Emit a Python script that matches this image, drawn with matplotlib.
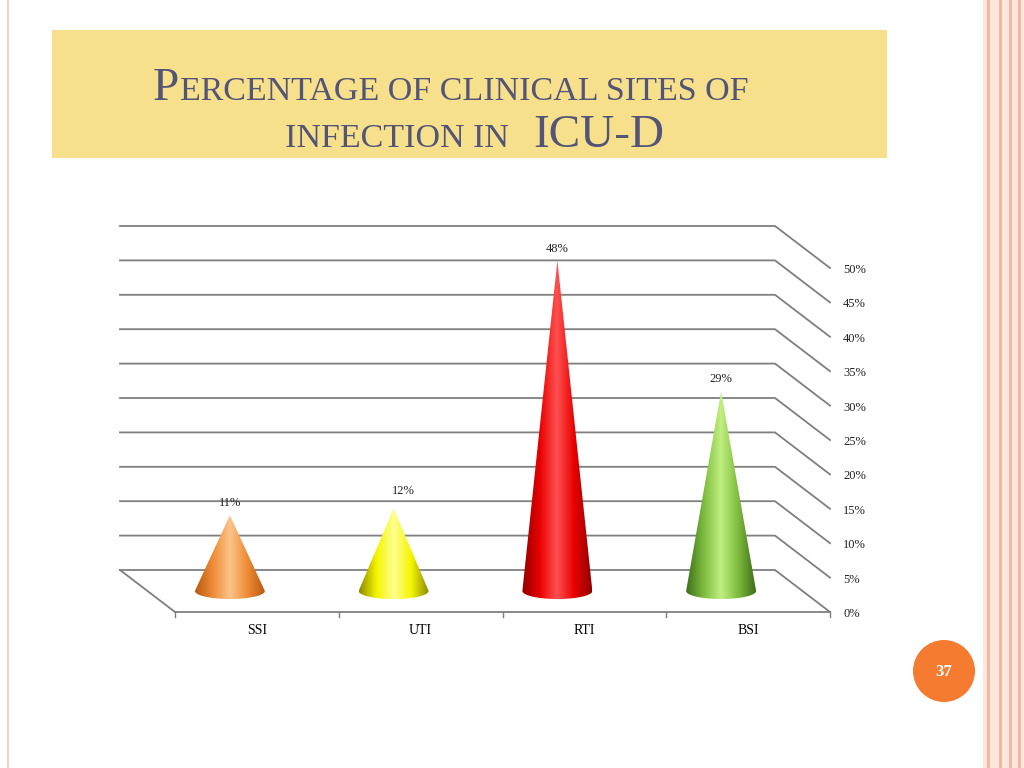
import numpy as np
import matplotlib
matplotlib.use("Agg")
import matplotlib.pyplot as plt
from matplotlib.patches import Polygon, Rectangle, Circle
from matplotlib.colors import LinearSegmentedColormap

categories = ["SSI", "UTI", "RTI", "BSI"]
values = [11, 12, 48, 29]
tick_labels = ["0%", "5%", "10%", "15%", "20%", "25%", "30%", "35%", "40%", "45%", "50%"]
cone_colors = [("#B85A10", "#F08A35", "#FBC48A"),
               ("#8A8A00", "#F5F500", "#FFFF90"),
               ("#900000", "#E80000", "#FF5050"),
               ("#3E6E18", "#7DBB3E", "#C0F080")]

fig = plt.figure(figsize=(10.24, 7.68), dpi=100)
ax = fig.add_axes([0, 0, 1, 1])
ax.set_xlim(0, 1024); ax.set_ylim(768, 0); ax.axis("off")

# slide decorations
ax.plot([8, 8], [0, 768], color="#F6D2C6", lw=1.5)
ax.add_patch(Rectangle((983, 0), 41, 768, color="#FDE6DC", lw=0))
for x in [988, 1000, 1010, 1019]:
    ax.plot([x, x], [0, 768], color="#F4B49C", lw=2)
ax.add_patch(Rectangle((52, 30), 835, 128, color="#F6E08C", lw=0))
tc = "#545476"
ax.text(153, 100, "P", fontsize=34, family="Liberation Serif", color=tc)
ax.text(180, 100, "ERCENTAGE OF CLINICAL SITES OF", fontsize=24.5, family="Liberation Serif", color=tc)
ax.text(285, 147, "INFECTION IN", fontsize=24.5, family="Liberation Serif", color=tc)
ax.text(533, 147, "ICU-D", fontsize=34, family="Liberation Serif", color=tc)
ax.add_patch(Circle((944, 671), 31, color="#F47B30", lw=0))
ax.text(944, 672, "37", fontsize=12, color="white", ha="center", va="center",
        family="Liberation Serif", weight="bold")

# 3D frame
bx0, bx1, dx, dy = 120, 775, 55, 42
back0, step = 570, 34.4
grid = "#7F7F7F"
for i in range(len(tick_labels)):
    y = back0 - i * step
    ax.plot([bx0, bx1, bx1 + dx], [y, y, y + dy], color=grid, lw=1.3)
    ax.text(843, y + dy + 2, tick_labels[i], fontsize=9, family="Liberation Serif",
            va="center", color="#222222")
ax.plot([bx0, bx0 + dx], [back0, back0 + dy], color=grid, lw=1.3)
ax.plot([bx0 + dx, bx1 + dx], [back0 + dy, back0 + dy], color=grid, lw=1.3)
front_x = np.linspace(bx0 + dx, bx1 + dx, len(categories) + 1)
for x in front_x:
    ax.plot([x, x], [back0 + dy, back0 + dy + 5], color=grid, lw=1)
for i, c in enumerate(categories):
    ax.text((front_x[i] + front_x[i + 1]) / 2, 631, c, fontsize=10,
            family="Liberation Serif", ha="center", va="center")

# cones at mid depth
mid0 = back0 + dy / 2
pxper = step / 5
for i, (v, (dk, md, lt)) in enumerate(zip(values, cone_colors)):
    cx = (front_x[i] + front_x[i + 1]) / 2 - 27
    apex = mid0 - v * pxper
    hw, hh = 35, 8
    t = np.linspace(0, np.pi, 40)
    pts = [(cx, apex), (cx + hw, mid0)] + [(cx + hw * np.cos(a), mid0 + hh * np.sin(a)) for a in t] + [(cx - hw, mid0)]
    poly = Polygon(pts, closed=True, facecolor="none", edgecolor="none")
    ax.add_patch(poly)
    cmap = LinearSegmentedColormap.from_list("c", [dk, md, lt, md, dk])
    grad = np.linspace(0, 1, 256).reshape(1, -1)
    im = ax.imshow(grad, cmap=cmap, extent=(cx - hw, cx + hw, mid0 + hh, apex),
                   aspect="auto", zorder=3)
    im.set_clip_path(poly)
    ax.text(cx + 10 if i == 1 else cx, apex - 9 if i != 1 else apex - 14, f"{v}%",
            fontsize=9, family="Liberation Serif", ha="center", color="#222222")
ax.set_xlim(0, 1024); ax.set_ylim(768, 0)
fig.savefig("out.png", dpi=100)
